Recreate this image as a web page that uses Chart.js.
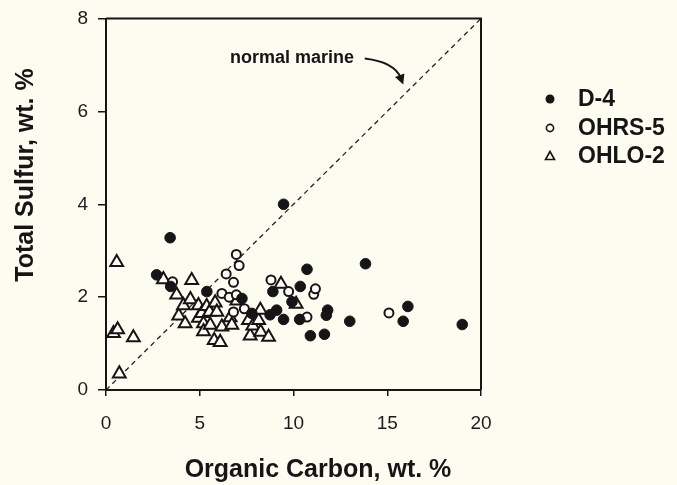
<!DOCTYPE html>
<html>
<head>
<meta charset="utf-8">
<script src="https://cdn.jsdelivr.net/npm/chart.js@4.4.1/dist/chart.umd.min.js"></script>
<style>
  html, body { margin: 0; padding: 0; background: #fdfcf1; }
  #wrap { width: 677px; height: 485px; position: relative; }
</style>
</head>
<body>
<div id="wrap"><canvas id="chart" width="677" height="485"></canvas></div>
<script>
// Total sulfur vs organic carbon (wt. %)
const d4Carbon = [2.7, 3.42, 3.45, 5.38, 7.25, 7.78, 8.75, 9.1, 8.9, 9.47, 9.47, 9.92, 10.36, 10.72, 10.33, 10.9, 11.65, 11.82, 11.75, 13.0, 13.84, 15.85, 16.1, 19.0]
const d4Sulfur = [2.48, 3.28, 2.23, 2.12, 1.97, 1.65, 1.62, 1.72, 2.12, 1.52, 4.0, 1.9, 2.23, 2.6, 1.52, 1.17, 1.2, 1.72, 1.61, 1.48, 2.72, 1.48, 1.8, 1.41]

const ohrsCarbon = [3.55, 6.18, 6.41, 6.57, 6.8, 6.8, 6.95, 6.95, 7.1, 7.38, 8.8, 9.74, 10.72, 11.08, 11.17, 15.09]
const ohrsSulfur = [2.33, 2.08, 2.5, 2.0, 2.32, 1.68, 2.05, 2.92, 2.68, 1.75, 2.37, 2.12, 1.57, 2.06, 2.18, 1.66]

const ohloCarbon = [0.4, 0.57, 0.62, 0.71, 1.46, 3.06, 3.77, 3.88, 4.13, 4.22, 4.5, 4.57, 4.93, 4.93, 5.1, 5.2, 5.2, 5.37, 5.52, 5.56, 5.77, 5.82, 5.91, 6.09, 6.18, 6.62, 6.71, 6.98, 7.6, 7.69, 7.83, 8.14, 8.23, 8.25, 8.67, 9.33, 10.14]
const ohloSulfur = [1.22, 2.75, 1.3, 0.35, 1.13, 2.38, 2.05, 1.6, 1.82, 1.43, 1.95, 2.36, 1.82, 1.55, 1.65, 1.43, 1.26, 1.8, 1.68, 1.4, 1.07, 1.88, 1.68, 1.03, 1.36, 1.56, 1.4, 1.92, 1.5, 1.17, 1.38, 1.5, 1.72, 1.25, 1.14, 2.28, 1.85]

// normal marine line
const marineCarbon = [0, 20]
const marineSulfur = [0, 8]

const xTicks = [0, 5, 10, 15, 20]
const yTicks = [0, 2, 4, 6, 8]

const seriesNames = ["D-4", "OHRS-5", "OHLO-2"]

const bg = "#fdfcf1"
const ink = "#151515"

const toPoints = (xs, ys) => xs.map((x, i) => ({ x: x, y: ys[i] }))

// cream background
const backgroundPlugin = {
  id: "background",
  beforeDraw(chart) {
    const ctx = chart.ctx
    ctx.save()
    ctx.fillStyle = bg
    ctx.fillRect(0, 0, chart.width, chart.height)
    ctx.restore()
  },
}

// frame, axis titles, annotation, legend
const decorPlugin = {
  id: "decor",
  afterDraw(chart) {
    const ctx = chart.ctx
    const a = chart.chartArea
    const xs = chart.scales.x
    const ys = chart.scales.y
    ctx.save()

    // top + right frame
    ctx.strokeStyle = ink
    ctx.lineWidth = 2
    ctx.beginPath()
    ctx.moveTo(a.left, a.top)
    ctx.lineTo(a.right, a.top)
    ctx.lineTo(a.right, a.bottom)
    ctx.stroke()

    // axis titles
    ctx.fillStyle = ink
    ctx.font = "bold 25px 'Liberation Sans', Arial, sans-serif"
    ctx.textAlign = "center"
    ctx.textBaseline = "middle"
    ctx.fillText("Organic Carbon, wt. %", a.left + 212, 470)
    ctx.save()
    ctx.translate(26, 175)
    ctx.rotate(-Math.PI / 2)
    ctx.fillText("Total Sulfur, wt. %", 0, 0)
    ctx.restore()

    // "normal marine" label + curved arrow
    ctx.font = "bold 18px 'Liberation Sans', Arial, sans-serif"
    ctx.fillText("normal marine", xs.getPixelForValue(9.92), ys.getPixelForValue(7.16))
    const sx = xs.getPixelForValue(13.8), sy = ys.getPixelForValue(7.14)
    const cx = xs.getPixelForValue(15.4), cy = ys.getPixelForValue(7.06)
    const ex = xs.getPixelForValue(15.72), ey = ys.getPixelForValue(6.72)
    ctx.lineWidth = 2
    ctx.beginPath()
    ctx.moveTo(sx, sy)
    ctx.quadraticCurveTo(cx, cy, ex, ey)
    ctx.stroke()
    const ang = Math.atan2(ey - cy, ex - cx)
    const tx = ex + Math.cos(ang) * 7, ty = ey + Math.sin(ang) * 7
    ctx.beginPath()
    ctx.moveTo(tx, ty)
    ctx.lineTo(ex - Math.cos(ang) * 3 + Math.sin(ang) * 5, ey - Math.sin(ang) * 3 - Math.cos(ang) * 5)
    ctx.lineTo(ex - Math.cos(ang) * 3 - Math.sin(ang) * 5, ey - Math.sin(ang) * 3 + Math.cos(ang) * 5)
    ctx.closePath()
    ctx.fill()

    // legend
    const rows = [99, 128, 156]
    const mx = 550
    ctx.font = "bold 23px 'Liberation Sans', Arial, sans-serif"
    ctx.textAlign = "left"
    seriesNames.forEach((name, i) => {
      const y = rows[i]
      ctx.fillStyle = ink
      ctx.strokeStyle = ink
      ctx.lineWidth = 1.6
      ctx.beginPath()
      if (i === 0) {
        ctx.arc(mx, y, 4.5, 0, Math.PI * 2)
        ctx.fill()
      } else if (i === 1) {
        ctx.arc(mx, y, 3.6, 0, Math.PI * 2)
        ctx.stroke()
      } else {
        ctx.moveTo(mx, y - 4.5)
        ctx.lineTo(mx + 4.5, y + 3.5)
        ctx.lineTo(mx - 4.5, y + 3.5)
        ctx.closePath()
        ctx.stroke()
      }
      ctx.fillStyle = ink
      ctx.fillText(name, 578, y + 1)
    })

    ctx.restore()
  },
}

const ctx = document.getElementById("chart").getContext("2d")

new Chart(ctx, {
  type: "scatter",
  data: {
    datasets: [
      {
        label: seriesNames[0],
        data: toPoints(d4Carbon, d4Sulfur),
        pointStyle: "circle",
        pointRadius: 5.3,
        backgroundColor: ink,
        borderColor: ink,
        borderWidth: 1,
        order: 1,
      },
      {
        label: seriesNames[1],
        data: toPoints(ohrsCarbon, ohrsSulfur),
        pointStyle: "circle",
        pointRadius: 4.5,
        backgroundColor: "#fffef6",
        borderColor: ink,
        borderWidth: 2,
        order: 2,
      },
      {
        label: seriesNames[2],
        data: toPoints(ohloCarbon, ohloSulfur),
        pointStyle: "triangle",
        pointRadius: 7.4,
        backgroundColor: "#fffef6",
        borderColor: ink,
        borderWidth: 2,
        order: 3,
      },
      {
        label: "normal marine",
        type: "line",
        data: toPoints(marineCarbon, marineSulfur),
        borderColor: "#222",
        borderWidth: 1.3,
        borderDash: [5, 4],
        pointRadius: 0,
        fill: false,
        order: 4,
      },
    ],
  },
  options: {
    responsive: false,
    animation: false,
    devicePixelRatio: 1,
    layout: {
      padding: { left: 0, top: 2, right: 196, bottom: 0 },
    },
    plugins: {
      legend: { display: false },
      tooltip: { enabled: false },
    },
    scales: {
      x: {
        type: "linear",
        min: 0,
        max: 20,
        afterBuildTicks: (scale) => {
          scale.ticks = xTicks.map((v) => ({ value: v }))
        },
        afterFit: (scale) => {
          scale.height = 95
        },
        grid: {
          drawOnChartArea: false,
          drawTicks: true,
          tickLength: 6,
          color: ink,
          lineWidth: 1.5,
        },
        border: { display: true, color: ink, width: 2 },
        ticks: {
          padding: 16,
          color: "#1c1c1c",
          font: { family: "'Liberation Sans', Arial, sans-serif", size: 19 },
        },
      },
      y: {
        type: "linear",
        min: 0,
        max: 8,
        afterBuildTicks: (scale) => {
          scale.ticks = yTicks.map((v) => ({ value: v }))
        },
        afterFit: (scale) => {
          scale.width = 106
        },
        grid: {
          drawOnChartArea: false,
          drawTicks: true,
          tickLength: 8,
          color: ink,
          lineWidth: 1.5,
        },
        border: { display: true, color: ink, width: 2 },
        ticks: {
          padding: 10,
          color: "#1c1c1c",
          font: { family: "'Liberation Sans', Arial, sans-serif", size: 19, lineHeight: 0.9 },
        },
      },
    },
  },
  plugins: [backgroundPlugin, decorPlugin],
})
</script>
</body>
</html>
